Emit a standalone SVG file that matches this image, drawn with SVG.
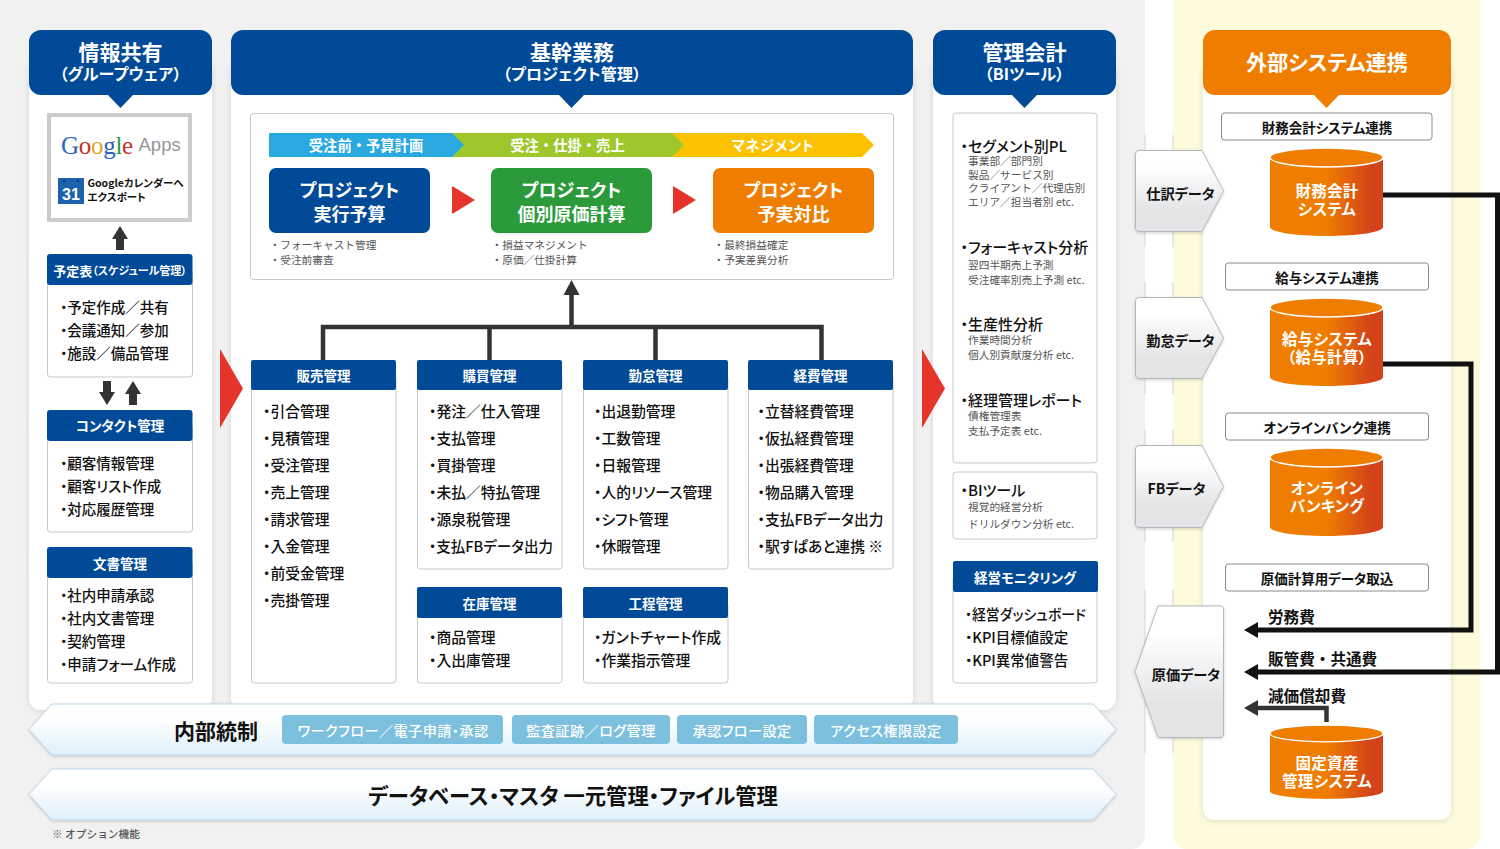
<svg xmlns="http://www.w3.org/2000/svg" width="1500" height="849" viewBox="0 0 1500 849">
<style>
text{font-family:"Noto Sans CJK JP","Noto Sans",sans-serif;font-feature-settings:"palt";dominant-baseline:central;transform:translateY(-2.5px)}
.c{text-anchor:middle}
.w{fill:#fff;font-weight:700}
.h1{font-size:21px}
.h2{font-size:16px;letter-spacing:.2px}
.hd{font-size:13.5px;fill:#fff;font-weight:700;text-anchor:middle}
.li{font-size:14.8px;font-weight:500;fill:#111}
.li2{font-size:14.5px;font-weight:500;fill:#111}
.sub{font-size:10.7px;fill:#555;font-feature-settings:normal}
.rt{font-size:15px;font-weight:500;fill:#111}
.chv{font-size:14.3px;font-feature-settings:normal}
.box{font-size:18px}
.bx{fill:#fff;stroke:#c9c9c9;stroke-width:1}
.nv{fill:#004a98}
.card{fill:#fff;filter:url(#sh)}
.ban{fill:url(#ban);stroke:#bcd7e8;stroke-width:1;filter:url(#sh2)}
.pill{fill:#7cc0de}
.pt{font-size:14.2px;fill:#fff;font-weight:500;text-anchor:middle;letter-spacing:.4px}
.pen{fill:url(#pen);stroke:#b5b7ba;stroke-width:1;stroke-linejoin:round;filter:url(#sh2)}
.pl{font-size:14.2px;font-weight:700;fill:#111;text-anchor:middle}
.lab{fill:#fff;stroke:#8a8a8a;stroke-width:1}
.lt{font-size:13.5px;font-weight:700;fill:#111;text-anchor:middle}
.ct{font-size:15.5px;font-weight:700;fill:#fff;text-anchor:middle;letter-spacing:.3px}
.cyl{fill:url(#cy)}
.cap{fill:#ef7d00;stroke:#fff;stroke-width:1.5}
.cost{font-size:15.6px;font-weight:700;fill:#111;font-feature-settings:normal}
.ln{fill:none;stroke:#111;stroke-width:5}
.dk{fill:none;stroke:#333;stroke-width:4.5}
.red{fill:#e5352a}
.ar{fill:#333}
</style>
<defs>
<filter id="sh" x="-10%" y="-5%" width="120%" height="110%"><feDropShadow dx="0" dy="1" stdDeviation="3" flood-color="#000" flood-opacity=".12"/></filter>
<filter id="sh2" x="-10%" y="-10%" width="120%" height="125%"><feDropShadow dx="0" dy="1" stdDeviation="1.5" flood-color="#000" flood-opacity=".18"/></filter>
<linearGradient id="ban" x1="0" y1="0" x2="0" y2="1"><stop offset=".3" stop-color="#fff"/><stop offset="1" stop-color="#deeffa"/></linearGradient>
<linearGradient id="pen" x1="0" y1="0" x2="0" y2="1"><stop offset=".2" stop-color="#fff"/><stop offset=".75" stop-color="#e3e4e6"/></linearGradient>
<linearGradient id="cy" x1="0" y1="0" x2="1" y2="0"><stop offset=".5" stop-color="#ef7d00"/><stop offset=".9" stop-color="#d3421a"/></linearGradient>
<path id="cylb" d="M1270 9v70c0 5 25 9 56.500 9s56.500-4 56.500-9V9z"/>
</defs>

<g id="backgrounds">
<rect x="-12" y="-12" width="1157" height="861" rx="14" fill="#f1f1f1"/>
<rect x="1173" y="-12" width="307" height="861" rx="14" fill="#fdfbdc"/>
<path d="M1145 135V247M1173 135V247M1145 282V394M1173 282V394M1145 430V542M1173 430V542M1145 590V753M1173 590V753" stroke="#d5d5d5" stroke-width="1" fill="none"/>
</g>

<g id="panel-info">
<rect class="card" x="29" y="60" width="183" height="650" rx="12"/>
<path class="nv" d="M41 30H200a12 12 0 0 1 12 12V83a12 12 0 0 1-12 12H133L120.500 108 108 95H41a12 12 0 0 1-12-12V42a12 12 0 0 1 12-12z"/>
<text class="w h1 c" x="120.500" y="53">情報共有</text>
<text class="w h2 c" x="120.500" y="75">（グループウェア）</text>
</g>
<g id="panel-core">
<rect class="card" x="231" y="60" width="682" height="650" rx="12"/>
<path class="nv" d="M243 30H901a12 12 0 0 1 12 12V83a12 12 0 0 1-12 12H584L571.500 108 559 95H243a12 12 0 0 1-12-12V42a12 12 0 0 1 12-12z"/>
<text class="w h1 c" x="572" y="53">基幹業務</text>
<text class="w h2 c" x="572" y="75">（プロジェクト管理）</text>
</g>
<g id="panel-bi">
<rect class="card" x="933" y="60" width="183" height="650" rx="12"/>
<path class="nv" d="M945 30H1104a12 12 0 0 1 12 12V83a12 12 0 0 1-12 12H1037L1024.500 108 1012 95H945a12 12 0 0 1-12-12V42a12 12 0 0 1 12-12z"/>
<text class="w h1 c" x="1024.500" y="53">管理会計</text>
<text class="w h2 c" x="1024.500" y="75">（BIツール）</text>
</g>
<g id="panel-ext">
<rect class="card" x="1203" y="60" width="248" height="760" rx="12"/>
<path fill="#ef7d00" d="M1215 30H1439a12 12 0 0 1 12 12V83a12 12 0 0 1-12 12H1339L1326.500 108 1314 95H1215a12 12 0 0 1-12-12V42a12 12 0 0 1 12-12z"/>
<text class="w c" style="font-size:21px" x="1327" y="63">外部システム連携</text>
</g>

<g id="google-apps">
<rect x="49" y="115" width="141" height="105" fill="#fff" stroke="#ccc" stroke-width="4"/>
<text x="61" y="147" style="font-family:'Liberation Serif',serif;font-size:25px;letter-spacing:-.3px"><tspan fill="#2a66b8">G</tspan><tspan fill="#c8302a">o</tspan><tspan fill="#e0a81c">o</tspan><tspan fill="#2a66b8">g</tspan><tspan fill="#2f9a3e">l</tspan><tspan fill="#c8302a">e</tspan></text>
<text x="138.500" y="147" style="font-family:'Liberation Sans',sans-serif;font-size:18.500px;fill:#94979a">Apps</text>
<rect x="58" y="178" width="26" height="26" fill="#1c62ad"/>
<circle cx="64" cy="181" r="1.200" fill="#0b3a70"/><circle cx="78" cy="181" r="1.200" fill="#0b3a70"/>
<text class="c" x="71" y="196.500" style="font-family:'Liberation Sans',sans-serif;font-size:16px;font-weight:700;fill:#fff">31</text>
<text x="87.500" y="185" style="font-size:10.500px;font-weight:700;fill:#111">Googleカレンダーへ</text>
<text x="87.500" y="199" style="font-size:10.500px;font-weight:700;fill:#111">エクスポート</text>
</g>

<g id="schedule">
<rect class="bx" x="47.500" y="270" width="145" height="107" rx="3"/>
<rect class="nv" x="47" y="254" width="145.500" height="31" rx="3"/>
<text class="w c" x="120" y="272.500"><tspan style="font-size:13px">予定表</tspan><tspan style="font-size:11px">（スケジュール管理）</tspan></text>
<text class="li2" x="60" y="309">・予定作成／共有</text>
<text class="li2" x="60" y="332">・会議通知／参加</text>
<text class="li2" x="60" y="355">・施設／備品管理</text>
</g>
<g id="contact">
<rect class="bx" x="47.500" y="425" width="145" height="107" rx="3"/>
<rect class="nv" x="47" y="410" width="145.500" height="31" rx="3"/>
<text class="hd" x="120" y="427">コンタクト管理</text>
<text class="li2" x="60" y="465">・顧客情報管理</text>
<text class="li2" x="60" y="488">・顧客リスト作成</text>
<text class="li2" x="60" y="511">・対応履歴管理</text>
</g>
<g id="docs">
<rect class="bx" x="47.500" y="562" width="145" height="121" rx="3"/>
<rect class="nv" x="47" y="547" width="145.500" height="31" rx="3"/>
<text class="hd" x="120" y="565">文書管理</text>
<text class="li2" x="60" y="597">・社内申請承認</text>
<text class="li2" x="60" y="620">・社内文書管理</text>
<text class="li2" x="60" y="643">・契約管理</text>
<text class="li2" x="60" y="666">・申請フォーム作成</text>
</g>

<g id="core-flow">
<rect class="bx" x="250.500" y="113.500" width="643" height="166" rx="3"/>
<path fill="#fcc200" d="M660 133H862L874 145 862 157H660z"/>
<path fill="#9dc72a" d="M440 133H672L684 145 672 157H440z"/>
<path fill="#29a9e0" d="M269 133H452L464 145 452 157H269z"/>
<text class="w c chv" x="366" y="147">受注前・予算計画</text>
<text class="w c chv" x="567.500" y="147">受注・仕掛・売上</text>
<text class="w c chv" style="font-feature-settings:'palt';letter-spacing:.6px" x="773" y="147">マネジメント</text>
<rect class="nv" x="269" y="168" width="161" height="65" rx="7"/>
<rect fill="#2a9a3a" x="491" y="168" width="161" height="65" rx="7"/>
<rect fill="#ef7d00" x="713" y="168" width="161" height="65" rx="7"/>
<text class="w c box" x="349.500" y="191.500">プロジェクト</text>
<text class="w c box" x="349.500" y="215">実行予算</text>
<text class="w c box" x="571.500" y="191.500">プロジェクト</text>
<text class="w c box" x="571.500" y="215">個別原価計算</text>
<text class="w c box" x="793.500" y="191.500">プロジェクト</text>
<text class="w c box" x="793.500" y="215">予実対比</text>
<path class="red" d="M452 186L475 200 452 214z"/>
<path class="red" d="M673 186L696 200 673 214z"/>
<text class="sub" x="269.500" y="247">・フォーキャスト管理</text>
<text class="sub" x="269.500" y="262">・受注前審査</text>
<text class="sub" x="491.500" y="247">・損益マネジメント</text>
<text class="sub" x="491.500" y="262">・原価／仕掛計算</text>
<text class="sub" x="713.500" y="247">・最終損益確定</text>
<text class="sub" x="713.500" y="262">・予実差異分析</text>
</g>

<g id="connectors">
<path class="dk" d="M571.500 325V292"/>
<path class="ar" d="M571.500 280L579.500 295H563.500z"/>
<path class="dk" d="M323 360V327H821.500V360M489.500 327V360M655.500 327V360"/>
<path class="ar" d="M120 226L128 239H124V250H116V239H112z"/>
<path class="ar" d="M107 405L115 392H111V381H103V392H99z"/>
<path class="ar" d="M133 381L141 394H137V405H129V394H125z"/>
<path class="ln" d="M1383 195H1497.500V672H1256"/>
<path class="ln" d="M1383 364H1471V630H1256"/>
<path class="dk" d="M1326.500 722V708H1256"/>
<path fill="#111" d="M1244 630L1258 622V638z"/>
<path fill="#111" d="M1244 672L1258 664V680z"/>
<path class="ar" d="M1244 708L1258 700V716z"/>
<path class="red" d="M220 349L243 388.500 220 428z"/>
<path class="red" d="M922 349L945 388.500 922 428z"/>
</g>

<g id="sales">
<rect class="bx" x="251.500" y="375" width="144.500" height="308" rx="3"/>
<rect class="nv" x="251" y="360" width="145" height="30" rx="2"/>
<text class="hd" x="323.500" y="377">販売管理</text>
<text class="li" x="263" y="413">・引合管理</text>
<text class="li" x="263" y="440">・見積管理</text>
<text class="li" x="263" y="467">・受注管理</text>
<text class="li" x="263" y="494">・売上管理</text>
<text class="li" x="263" y="521">・請求管理</text>
<text class="li" x="263" y="548">・入金管理</text>
<text class="li" x="263" y="575">・前受金管理</text>
<text class="li" x="263" y="602">・売掛管理</text>
</g>
<g id="purchase">
<rect class="bx" x="417.500" y="375" width="144.500" height="194" rx="3"/>
<rect class="nv" x="417" y="360" width="145" height="30" rx="2"/>
<text class="hd" x="489.500" y="377">購買管理</text>
<text class="li" x="429" y="413">・発注／仕入管理</text>
<text class="li" x="429" y="440">・支払管理</text>
<text class="li" x="429" y="467">・買掛管理</text>
<text class="li" x="429" y="494">・未払／特払管理</text>
<text class="li" x="429" y="521">・源泉税管理</text>
<text class="li" x="429" y="548" textLength="124" lengthAdjust="spacingAndGlyphs">・支払FBデータ出力</text>
</g>
<g id="attendance">
<rect class="bx" x="583.500" y="375" width="144.500" height="194" rx="3"/>
<rect class="nv" x="583" y="360" width="145" height="30" rx="2"/>
<text class="hd" x="655.500" y="377">勤怠管理</text>
<text class="li" x="594" y="413">・出退勤管理</text>
<text class="li" x="594" y="440">・工数管理</text>
<text class="li" x="594" y="467">・日報管理</text>
<text class="li" x="594" y="494">・人的リソース管理</text>
<text class="li" x="594" y="521">・シフト管理</text>
<text class="li" x="594" y="548">・休暇管理</text>
</g>
<g id="expense">
<rect class="bx" x="748.500" y="375" width="144.500" height="194" rx="3"/>
<rect class="nv" x="748" y="360" width="145" height="30" rx="2"/>
<text class="hd" x="820.500" y="377">経費管理</text>
<text class="li" x="757.500" y="413">・立替経費管理</text>
<text class="li" x="757.500" y="440">・仮払経費管理</text>
<text class="li" x="757.500" y="467">・出張経費管理</text>
<text class="li" x="757.500" y="494">・物品購入管理</text>
<text class="li" x="757.500" y="521" textLength="126" lengthAdjust="spacingAndGlyphs">・支払FBデータ出力</text>
<text class="li" x="757.500" y="548">・駅すぱあと連携 ※</text>
</g>
<g id="stock">
<rect class="bx" x="417.500" y="603" width="144.500" height="80" rx="3"/>
<rect class="nv" x="417" y="587" width="145" height="31" rx="2"/>
<text class="hd" x="489.500" y="605">在庫管理</text>
<text class="li" x="429" y="639">・商品管理</text>
<text class="li" x="429" y="662">・入出庫管理</text>
</g>
<g id="process">
<rect class="bx" x="583.500" y="603" width="144.500" height="80" rx="3"/>
<rect class="nv" x="583" y="587" width="145" height="31" rx="2"/>
<text class="hd" x="655.500" y="605">工程管理</text>
<text class="li" x="594" y="639">・ガントチャート作成</text>
<text class="li" x="594" y="662">・作業指示管理</text>
</g>

<g id="bi-reports">
<rect class="bx" x="953" y="113" width="144" height="350" rx="3"/>
<text class="rt" x="960.500" y="148">・セグメント別PL</text>
<text class="sub" x="968" y="163">事業部／部門別</text>
<text class="sub" x="968" y="176.500">製品／サービス別</text>
<text class="sub" x="968" y="190">クライアント／代理店別</text>
<text class="sub" x="968" y="204">エリア／担当者別 etc.</text>
<text class="rt" x="960.500" y="249">・フォーキャスト分析</text>
<text class="sub" x="968" y="267">翌四半期売上予測</text>
<text class="sub" x="968" y="282">受注確率別売上予測 etc.</text>
<text class="rt" x="960.500" y="326">・生産性分析</text>
<text class="sub" x="968" y="342">作業時間分析</text>
<text class="sub" x="968" y="357">個人別貢献度分析 etc.</text>
<text class="rt" x="960.500" y="402">・経理管理レポート</text>
<text class="sub" x="968" y="418">債権管理表</text>
<text class="sub" x="968" y="433">支払予定表 etc.</text>
</g>
<g id="bi-tool">
<rect class="bx" x="953" y="472" width="144" height="67" rx="3"/>
<text class="rt" x="960.500" y="492">・BIツール</text>
<text class="sub" x="968" y="509">視覚的経営分析</text>
<text class="sub" x="968" y="526">ドリルダウン分析 etc.</text>
</g>
<g id="monitoring">
<rect class="bx" x="953" y="576" width="144" height="107" rx="3"/>
<rect class="nv" x="953" y="561" width="145" height="31" rx="2"/>
<text class="hd" x="1025" y="579">経営モニタリング</text>
<text class="li2" x="965" y="616" textLength="121" lengthAdjust="spacingAndGlyphs">・経営ダッシュボード</text>
<text class="li2" x="965" y="639">・KPI目標値設定</text>
<text class="li2" x="965" y="662">・KPI異常値警告</text>
</g>

<g id="internal-control">
<path class="ban" d="M52 704H1093L1116 729.500 1093 755H52L29 729.500z"/>
<text x="174" y="732" style="font-size:21px;font-weight:700;fill:#111">内部統制</text>
<rect class="pill" x="282" y="715" width="221" height="29" rx="4"/><text class="pt" x="393" y="732">ワークフロー／電子申請・承認</text>
<rect class="pill" x="512" y="715" width="158" height="29" rx="4"/><text class="pt" x="591" y="732">監査証跡／ログ管理</text>
<rect class="pill" x="677" y="715" width="130" height="29" rx="4"/><text class="pt" x="742" y="732">承認フロー設定</text>
<rect class="pill" x="814" y="715" width="144" height="29" rx="4"/><text class="pt" x="886" y="732">アクセス権限設定</text>
</g>
<g id="database">
<path class="ban" d="M52 769H1093L1116 794.500 1093 820H52L29 794.500z"/>
<text class="c" x="573" y="797" style="font-size:21.300px;font-weight:700;fill:#111">データベース・マスタ 一元管理・ファイル管理</text>
</g>
<text x="52" y="836" style="font-size:10.700px;fill:#555;font-weight:500;font-feature-settings:normal">※ オプション機能</text>

<g id="data-journal"><path class="pen" d="M1139 150.500H1202L1223.500 191 1202 231.500H1139a3.500 3.500 0 0 1-3.500-3.500V154a3.500 3.500 0 0 1 3.500-3.500z"/><text class="pl" x="1180.500" y="195">仕訳データ</text></g>
<g id="data-attend"><path class="pen" d="M1139 297.500H1202L1223.500 338 1202 378.500H1139a3.500 3.500 0 0 1-3.500-3.500V301a3.500 3.500 0 0 1 3.500-3.500z"/><text class="pl" x="1180.500" y="342">勤怠データ</text></g>
<g id="data-fb"><path class="pen" d="M1139 445.500H1202L1223.500 486.500 1202 527.500H1139a3.500 3.500 0 0 1-3.500-3.500V449a3.500 3.500 0 0 1 3.500-3.500z"/><text class="pl" x="1176.500" y="490">FBデータ</text></g>
<g id="data-cost"><path class="pen" d="M1158 606H1220a3.500 3.500 0 0 1 3.500 3.500V734a3.500 3.500 0 0 1-3.500 3.500H1158L1135 671.500z"/><text class="pl" x="1186" y="676">原価データ</text></g>

<g id="ext-finance">
<rect class="lab" x="1221.500" y="113" width="210.500" height="27" rx="3"/>
<text class="lt" x="1327" y="129">財務会計システム連携</text>
<g transform="translate(0,148)"><use href="#cylb" class="cyl"/><ellipse class="cap" cx="1326.500" cy="9.500" rx="56.500" ry="9.500"/></g>
<text class="ct" x="1327" y="192.500">財務会計</text>
<text class="ct" x="1327" y="210.500">システム</text>
</g>
<g id="ext-payroll">
<rect class="lab" x="1225.500" y="263" width="203" height="27" rx="3"/>
<text class="lt" x="1327" y="279">給与システム連携</text>
<g transform="translate(0,298)"><use href="#cylb" class="cyl"/><ellipse class="cap" cx="1326.500" cy="9.500" rx="56.500" ry="9.500"/></g>
<text class="ct" x="1327" y="340.500">給与システム</text>
<text class="ct" x="1327" y="358.500">（給与計算）</text>
</g>
<g id="ext-bank">
<rect class="lab" x="1225.500" y="413" width="203" height="27" rx="3"/>
<text class="lt" x="1327" y="429">オンラインバンク連携</text>
<g transform="translate(0,448)"><use href="#cylb" class="cyl"/><ellipse class="cap" cx="1326.500" cy="9.500" rx="56.500" ry="9.500"/></g>
<text class="ct" x="1327" y="489.500">オンライン</text>
<text class="ct" x="1327" y="507.500">バンキング</text>
</g>
<g id="ext-cost">
<rect class="lab" x="1225.500" y="564" width="203" height="27" rx="3"/>
<text class="lt" x="1327" y="580">原価計算用データ取込</text>
<text class="cost" x="1268" y="618">労務費</text>
<text class="cost" x="1268" y="660">販管費・共通費</text>
<text class="cost" x="1268" y="697">減価償却費</text>
</g>
<g id="ext-asset">
<g transform="translate(0,725) scale(1,.84)"><use href="#cylb" class="cyl"/><ellipse class="cap" cx="1326.500" cy="10" rx="56.500" ry="10"/></g>
<text class="ct" x="1327" y="764">固定資産</text>
<text class="ct" x="1327" y="782">管理システム</text>
</g>
</svg>
